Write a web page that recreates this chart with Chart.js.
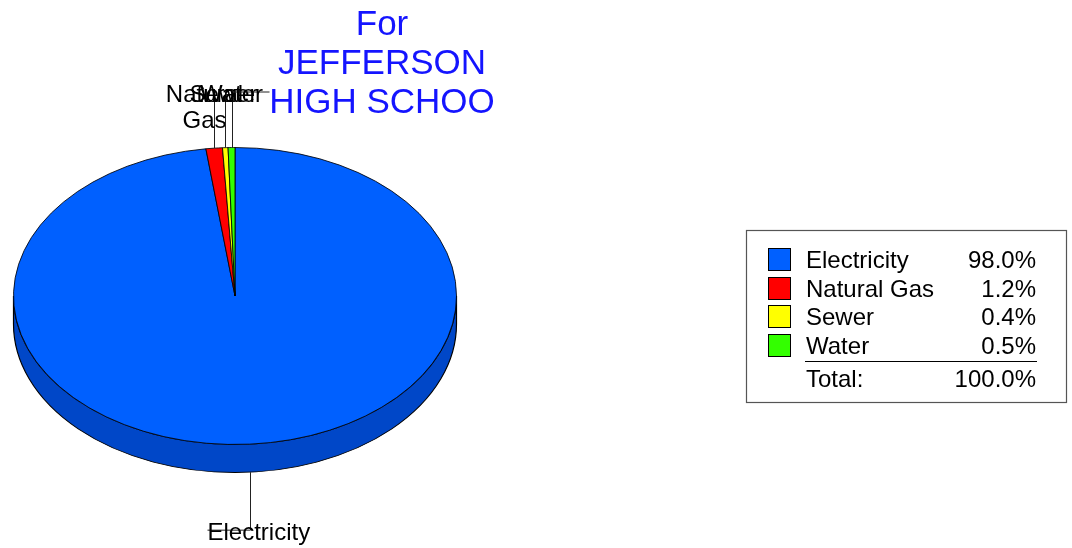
<!DOCTYPE html>
<html>
<head>
<meta charset="utf-8">
<script src="https://cdn.jsdelivr.net/npm/chart.js@4/dist/chart.umd.min.js"></script>
<style>
  html, body { margin: 0; padding: 0; background: #ffffff; }
  #wrap { width: 1072px; height: 548px; position: relative; }
  canvas { display: block; }
</style>
</head>
<body>
<div id="wrap"><canvas id="c" width="1072" height="548"></canvas></div>
<script>
// ---- data ----
const categories = ['Electricity', 'Natural Gas', 'Sewer', 'Water'];
const shares = [98.0, 1.2, 0.4, 0.5];           // percent of total
const titleLines = ['For', 'JEFFERSON', 'HIGH SCHOO'];
const totalLabel = 'Total:';
const totalShare = 100.0;

// ---- styles ----
const FONT = '"Liberation Sans", Arial, Helvetica, sans-serif';
const faceColors = ['#0060ff', '#ff0000', '#ffff00', '#33ff00'];
const sideColors = ['#0047c8', '#c00000', '#c0c000', '#26c000'];
const TILT = 0.6704;     // vertical squash of the pie
const DEPTH = 28;        // thickness of the pie in px

// label placement relative to each slice's leader anchor
const labelStyle = [
  { lines: ['Electricity'], dx: -43, lineDy: 58, textDy: 68, align: 'left', hook: -43 },
  { lines: ['Natural', 'Gas'], dx: -10, top: 92, base: 102, align: 'center' },
  { lines: ['Sewer'], dx: -2, top: 92, base: 102, align: 'center' },
  { lines: ['Water'], dx: -1, top: 92, base: 102, align: 'center', hookRight: 37 }
];

function visibleRanges(s, e) {
  const out = [];
  for (const sh of [-2 * Math.PI, 0, 2 * Math.PI]) {
    const lo = Math.max(s + sh, 0), hi = Math.min(e + sh, Math.PI);
    if (hi > lo) out.push([lo, hi]);
  }
  return out;
}

const pie3d = {
  id: 'pie3d',
  beforeDatasetsDraw(chart) {
    const ctx = chart.ctx;
    const arcs = chart.getDatasetMeta(0).data;
    const cx = arcs[0].x, cy = arcs[0].y, R = arcs[0].outerRadius;
    ctx.save();
    ctx.translate(0, cy);
    ctx.scale(1, TILT);
    ctx.translate(0, -cy);
    const D = DEPTH / TILT;
    arcs.forEach((a, i) => {
      visibleRanges(a.startAngle, a.endAngle).forEach(([lo, hi]) => {
        ctx.beginPath();
        ctx.arc(cx, cy, R, lo, hi);
        ctx.arc(cx, cy + D, R, hi, lo, true);
        ctx.closePath();
        ctx.fillStyle = sideColors[i];
        ctx.fill();
        ctx.lineWidth = 1.2;
        ctx.strokeStyle = '#000';
        ctx.stroke();
      });
    });
  },
  afterDatasetsDraw(chart) {
    chart.ctx.restore();
  },
  afterDraw(chart) {
    const ctx = chart.ctx;
    const arcs = chart.getDatasetMeta(0).data;
    const cx = arcs[0].x, cy = arcs[0].y, R = arcs[0].outerRadius;

    // slice labels with leader lines
    ctx.save();
    ctx.font = '24px ' + FONT;
    ctx.fillStyle = '#000';
    ctx.strokeStyle = '#222';
    ctx.lineWidth = 1;
    arcs.forEach((a, i) => {
      const mid = (a.startAngle + a.endAngle) / 2;
      const st = labelStyle[i];
      let x = Math.round(cx + R * Math.cos(mid)) + 0.5;
      let y = cy + R * TILT * Math.sin(mid);
      if (Math.sin(mid) > 0) {
        y += DEPTH;
        ctx.beginPath();
        ctx.moveTo(x, y);
        ctx.lineTo(x, y + st.lineDy);
        ctx.lineTo(x + st.hook, y + st.lineDy);
        ctx.stroke();
        ctx.textAlign = st.align;
        ctx.textBaseline = 'alphabetic';
        ctx.fillText(st.lines[0], x + st.dx, y + st.textDy);
      } else {
        ctx.beginPath();
        ctx.moveTo(x, y);
        ctx.lineTo(x, st.top);
        if (st.hookRight) ctx.lineTo(x + st.hookRight, st.top);
        ctx.stroke();
        ctx.textAlign = st.align;
        ctx.textBaseline = 'alphabetic';
        st.lines.forEach((ln, k) => ctx.fillText(ln, x + st.dx, st.base + k * 26));
      }
    });
    ctx.restore();

    // title
    ctx.save();
    ctx.font = '35px ' + FONT;
    ctx.fillStyle = '#1414ff';
    ctx.textAlign = 'center';
    ctx.textBaseline = 'alphabetic';
    titleLines.forEach((t, k) => ctx.fillText(t, 382, 35 + k * 39));
    ctx.restore();

    // legend box
    ctx.save();
    const bx = 746, by = 230, bw = 320, bh = 172;
    ctx.strokeStyle = '#555';
    ctx.lineWidth = 1.2;
    ctx.strokeRect(bx + 0.5, by + 0.5, bw, bh);
    ctx.font = '24px ' + FONT;
    ctx.textBaseline = 'alphabetic';
    const pitch = 28.5;
    categories.forEach((c, i) => {
      const top = 248 + i * pitch;
      ctx.fillStyle = faceColors[i];
      ctx.fillRect(768, Math.round(top), 23, 23);
      ctx.strokeStyle = '#000';
      ctx.lineWidth = 1;
      ctx.strokeRect(768.5, Math.round(top) + 0.5, 22, 22);
      ctx.fillStyle = '#000';
      ctx.textAlign = 'left';
      ctx.fillText(c, 806, top + 20);
      ctx.textAlign = 'right';
      ctx.fillText(shares[i].toFixed(1) + '%', 1036, top + 20);
    });
    ctx.strokeStyle = '#000';
    ctx.lineWidth = 1;
    ctx.beginPath();
    ctx.moveTo(805, 361.5);
    ctx.lineTo(1037, 361.5);
    ctx.stroke();
    ctx.textAlign = 'left';
    ctx.fillText(totalLabel, 806, 387);
    ctx.textAlign = 'right';
    ctx.fillText(totalShare.toFixed(1) + '%', 1036, 387);
    ctx.restore();
  }
};

new Chart(document.getElementById('c'), {
  type: 'pie',
  data: {
    labels: categories,
    datasets: [{
      data: shares,
      backgroundColor: faceColors,
      borderColor: '#000',
      borderWidth: 1,
      hoverOffset: 0,
      clip: false
    }]
  },
  options: {
    responsive: false,
    animation: false,
    layout: { padding: { left: 13, right: 615, top: 74, bottom: 30 } },
    plugins: {
      legend: { display: false },
      title: { display: false },
      tooltip: { enabled: false }
    },
    events: []
  },
  plugins: [pie3d]
});
</script>
</body>
</html>
